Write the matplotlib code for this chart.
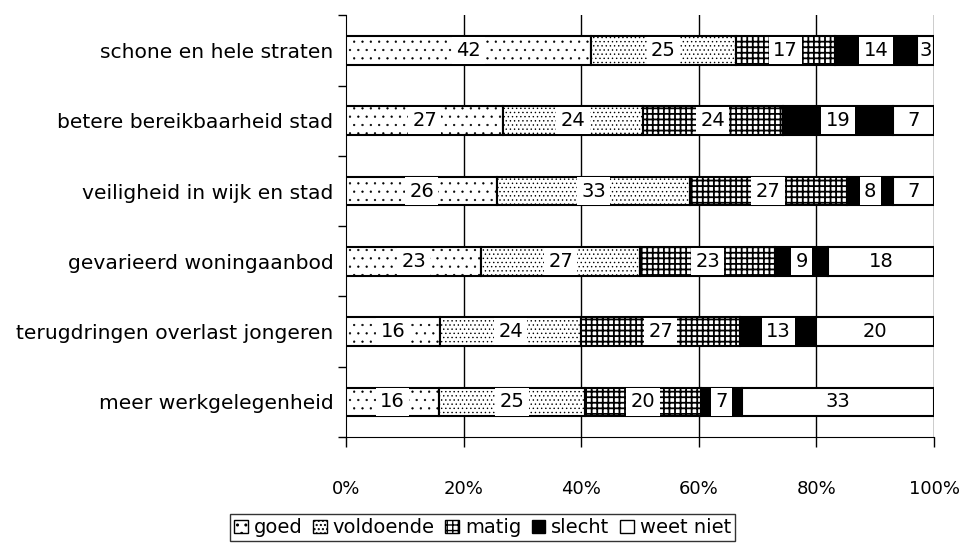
import numpy as np
import matplotlib.pyplot as plt
from matplotlib.patches import Patch

plt.rcParams['font.family'] = ['DejaVu Sans']

categories = [
    "schone en hele straten",
    "betere bereikbaarheid stad",
    "veiligheid in wijk en stad",
    "gevarieerd woningaanbod",
    "terugdringen overlast jongeren",
    "meer werkgelegenheid",
]
series_names = ["goed", "voldoende", "matig", "slecht", "weet niet"]
goed = [42, 27, 26, 23, 16, 16]
voldoende = [25, 24, 33, 27, 24, 25]
matig = [17, 24, 27, 23, 27, 20]
slecht = [14, 19, 8, 9, 13, 7]
weet_niet = [3, 7, 7, 18, 20, 33]
x_ticks = [0, 20, 40, 60, 80, 100]

# fill, hatch pattern, hatch line width per series
styles = [
    dict(facecolor="white", hatch=".."),
    dict(facecolor="white", hatch="...."),
    dict(facecolor="white", hatch="+++"),
    dict(facecolor="black", hatch=None),
    dict(facecolor="white", hatch=None),
]
hatch_lw = [0.4, 0.5, 1.3, 1.0, 1.0]

data = np.array([goed, voldoende, matig, slecht, weet_niet], dtype=float)
shares = data / data.sum(axis=0) * 100

fig = plt.figure(figsize=(9.69, 5.43), dpi=100)
ax = fig.add_axes([0.357, 0.195, 0.607, 0.777])

y = np.arange(len(categories))
left = np.zeros(len(categories))
for i, name in enumerate(series_names):
    plt.rcParams['hatch.linewidth'] = hatch_lw[i]
    bars = ax.barh(y, shares[i], left=left, height=0.41, edgecolor="black",
                   linewidth=1.5, zorder=3, **styles[i])
    for b in bars:
        if hasattr(b, "set_hatch_linewidth"):
            b.set_hatch_linewidth(hatch_lw[i])
    # white label boxes, except on the already white last segment
    box = None
    if name != "weet niet":
        box = dict(boxstyle="square,pad=0.22", fc="white", ec="none")
    for j in range(len(categories)):
        ax.text(left[j] + shares[i][j] / 2, y[j], f"{int(data[i][j])}",
                ha="center", va="center", fontsize=14, zorder=4, bbox=box)
    left += shares[i]

ax.set_xlim(0, 100)
ax.set_ylim(len(categories) - 0.5, -0.5)
ax.set_xticks(x_ticks)
ax.set_xticklabels([f"{t}%" for t in x_ticks], fontsize=13)
ax.tick_params(axis="x", length=7, width=1, pad=24)
ax.set_yticks(y)
ax.set_yticklabels(categories, fontsize=14.6)
ax.tick_params(axis="y", length=0, pad=9)
ax.set_yticks(np.arange(-0.5, len(categories), 1), minor=True)
ax.tick_params(axis="y", which="minor", length=6, width=1)
for t in x_ticks[1:]:
    ax.axvline(t, color="black", linewidth=1, zorder=1)
ax.spines["top"].set_visible(False)
ax.spines["right"].set_visible(False)

handles = []
for i in range(5):
    plt.rcParams['hatch.linewidth'] = hatch_lw[i]
    h = Patch(edgecolor="black", linewidth=1, **styles[i])
    if hasattr(h, "set_hatch_linewidth"):
        h.set_hatch_linewidth(hatch_lw[i])
    handles.append(h)
leg = fig.legend(handles, series_names, loc="lower center", ncol=5,
                 bbox_to_anchor=(0.498, 0.0), fontsize=14, frameon=True,
                 fancybox=False, edgecolor="black", handlelength=0.7,
                 handleheight=0.7, handletextpad=0.3, columnspacing=0.55,
                 borderpad=0.2, borderaxespad=0.1)
leg.get_frame().set_linewidth(1)

fig.savefig("out.png", dpi=100)
